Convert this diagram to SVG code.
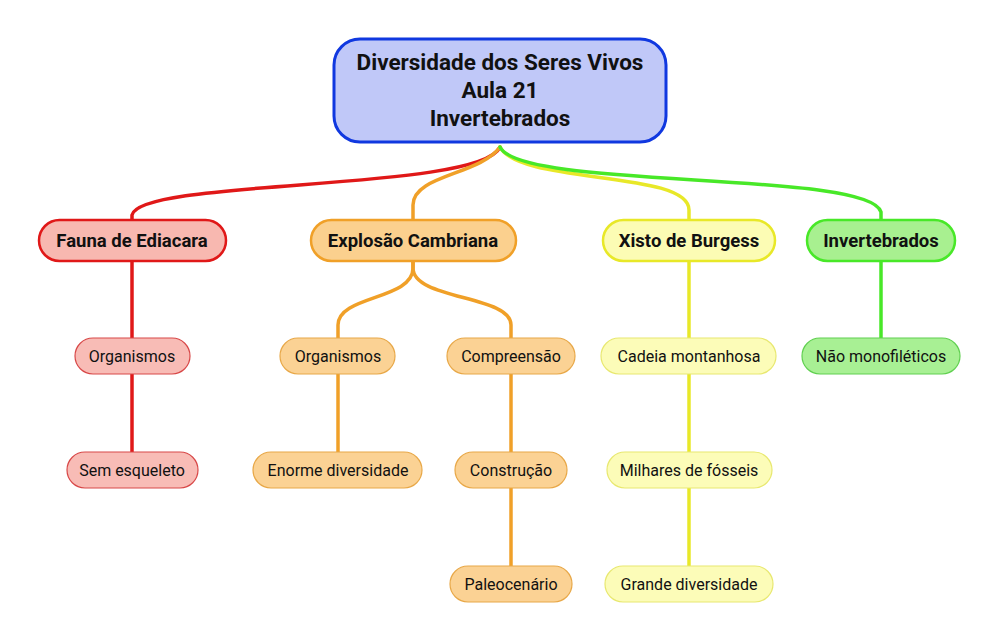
<svg xmlns="http://www.w3.org/2000/svg" width="1000" height="642" viewBox="0 0 1000 642">
<style>
text{font-family:Roboto,"Liberation Sans",sans-serif;fill:#111;text-anchor:middle}
.t0{font-size:22.5px;font-weight:bold}
.t1{font-size:18.5px;font-weight:bold}
.t2{font-size:16px}
.c{fill:none;stroke-width:3.5;stroke-linecap:round}
.r{stroke:#e01818}.o{stroke:#f0a028}.y{stroke:#e8e828}.g{stroke:#48e828}
.n1{stroke-width:2.5}.n2{stroke-width:1.2}
.fr1{fill:#f8b8b0;stroke:#e01818}.fr2{fill:#f8bcb6;stroke:#d84848}
.fo1{fill:#fbd08e;stroke:#f0a028}.fo2{fill:#fbd294;stroke:#e8a848}
.fy1{fill:#fcfcb4;stroke:#e8e828}.fy2{fill:#fcfcb8;stroke:#e8e870}
.fg1{fill:#a8f090;stroke:#48e828}.fg2{fill:#a8f094;stroke:#60d050}
</style>
<rect width="1000" height="642" fill="#fff"/>
<g id="connectors">
<path class="c r" d="M500,147 C480,192 140,178 132,215 L132,220"/>
<path class="c o" d="M500,147 C480,175 413,175 413,205 L413,220"/>
<path class="c y" d="M500,147 C520,185 689,170 689,210 L689,220"/>
<path class="c g" d="M500,147 C520,190 870,170 881,212 L881,220"/>
<path class="c r" d="M132,261 L132,338"/>
<path class="c r" d="M132,374 L132,452"/>
<path class="c o" d="M413,261 L413,268 C413,300 338,295 338,325 L338,338"/>
<path class="c o" d="M413,261 L413,268 C413,300 511,295 511,325 L511,338"/>
<path class="c o" d="M338,374 L338,452"/>
<path class="c o" d="M511,374 L511,452"/>
<path class="c o" d="M511,488 L511,566"/>
<path class="c y" d="M689,261 L689,338"/>
<path class="c y" d="M689,374 L689,452"/>
<path class="c y" d="M689,488 L689,566"/>
<path class="c g" d="M881,261 L881,338"/>
</g>
<g id="root">
<rect x="334" y="39" width="332" height="103" rx="26" fill="#c0c8f8" stroke="#1038e0" stroke-width="3"/>
<text class="t0" x="500" y="70">Diversidade dos Seres Vivos</text>
<text class="t0" x="500" y="98">Aula 21</text>
<text class="t0" x="500" y="126">Invertebrados</text>
</g>
<g id="fauna"><rect class="n1 fr1" x="39" y="220" width="187" height="41" rx="20.5"/><text class="t1" x="132" y="247">Fauna de Ediacara</text></g>
<g id="explosao"><rect class="n1 fo1" x="311" y="220" width="205" height="41" rx="20.5"/><text class="t1" x="413" y="247">Explosão Cambriana</text></g>
<g id="xisto"><rect class="n1 fy1" x="603" y="220" width="172" height="41" rx="20.5"/><text class="t1" x="689" y="247">Xisto de Burgess</text></g>
<g id="invert"><rect class="n1 fg1" x="807" y="220" width="148" height="41" rx="20.5"/><text class="t1" x="881" y="247">Invertebrados</text></g>
<g id="org1"><rect class="n2 fr2" x="75" y="338" width="115" height="36" rx="18"/><text class="t2" x="132" y="361.5">Organismos</text></g>
<g id="sem"><rect class="n2 fr2" x="67" y="452" width="131" height="36" rx="18"/><text class="t2" x="132" y="475.5">Sem esqueleto</text></g>
<g id="org2"><rect class="n2 fo2" x="280" y="338" width="115" height="36" rx="18"/><text class="t2" x="338" y="361.5">Organismos</text></g>
<g id="enorme"><rect class="n2 fo2" x="253" y="452" width="169" height="36" rx="18"/><text class="t2" x="338" y="475.5">Enorme diversidade</text></g>
<g id="compreensao"><rect class="n2 fo2" x="447" y="338" width="128" height="36" rx="18"/><text class="t2" x="511" y="361.5">Compreensão</text></g>
<g id="construcao"><rect class="n2 fo2" x="455" y="452" width="112" height="36" rx="18"/><text class="t2" x="511" y="475.5">Construção</text></g>
<g id="paleo"><rect class="n2 fo2" x="450" y="566" width="122" height="36" rx="18"/><text class="t2" x="511" y="589.5">Paleocenário</text></g>
<g id="cadeia"><rect class="n2 fy2" x="601" y="338" width="175" height="36" rx="18"/><text class="t2" x="689" y="361.5">Cadeia montanhosa</text></g>
<g id="milhares"><rect class="n2 fy2" x="607" y="452" width="165" height="36" rx="18"/><text class="t2" x="689" y="475.5">Milhares de fósseis</text></g>
<g id="grande"><rect class="n2 fy2" x="605" y="566" width="168" height="36" rx="18"/><text class="t2" x="689" y="589.5">Grande diversidade</text></g>
<g id="nao"><rect class="n2 fg2" x="802" y="338" width="158" height="36" rx="18"/><text class="t2" x="881" y="361.5">Não monofiléticos</text></g>
</svg>
